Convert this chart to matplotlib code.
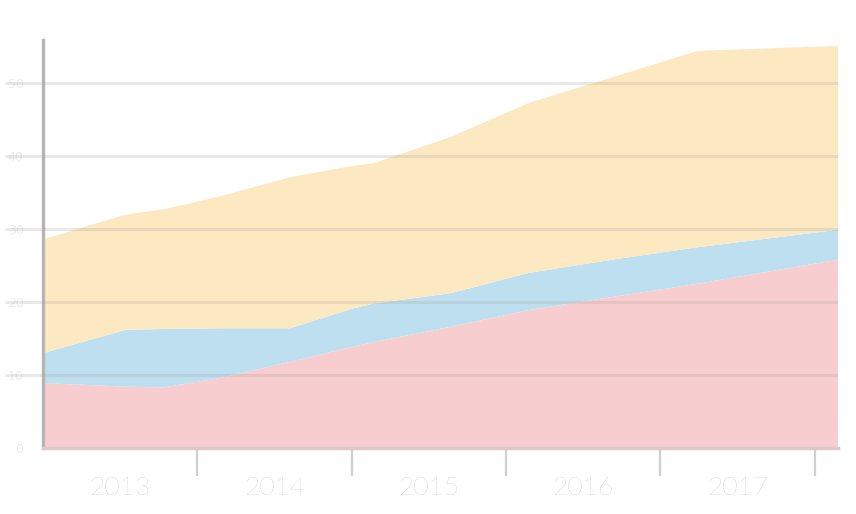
import numpy as np
import matplotlib.pyplot as plt

# x positions in years since start of 2013 (tick at each year boundary)
x = [0, 0.54, 0.78, 1.15, 1.6, 1.99, 2.14, 2.64, 3.15, 3.69, 4.24, 5.15]

# stacked layers
pink   = [8.9, 8.4, 8.3, 9.6, 11.8, 13.8, 14.5, 16.6, 18.9, 20.7, 22.5, 25.8]
blue   = [4.1, 7.8, 8.0, 6.8, 4.6, 5.2, 5.3, 4.6, 5.1, 5.1, 5.0, 4.1]
yellow = [15.6, 15.8, 16.4, 18.1, 20.7, 19.6, 19.2, 21.4, 23.3, 25.0, 26.9, 25.2]

years = ['2013', '2014', '2015', '2016', '2017']
yticks = [0, 10, 20, 30, 40, 50]

fig = plt.figure(figsize=(8.56, 5.14), dpi=100)
ax = fig.add_axes([0.0502, 0.1284, 0.9287, 0.7938])

ax.stackplot(x, pink, blue, yellow,
             colors=['#f8cdd0', '#bedff0', '#fce9c2'], linewidth=0)

ax.set_xlim(0, 5.15)
ax.set_ylim(0, 55.9)

# grid lines run a bit past the left axis
ax.hlines(yticks[1:], -0.245, 5.15, colors='#b0a8a0', alpha=0.25,
          linewidth=2.2, clip_on=False, zorder=3)

for s in ['top', 'right']:
    ax.spines[s].set_visible(False)
ax.spines['left'].set_color('#b5b5b5')
ax.spines['left'].set_linewidth(2.4)
ax.spines['bottom'].set_color('#dccaca')
ax.spines['bottom'].set_linewidth(2.5)

# year separators as ticks, labels centred in between
ax.set_xticks(range(1, 6))
ax.set_xticklabels([])
ax.tick_params(axis='x', length=20, width=1.6, color='#cfcfcf', direction='out')
ax.set_xticks(np.arange(0.5, 5, 1), minor=True)
ax.set_xticklabels(years, minor=True, fontsize=19, color='#b8b8b8',
                   family='Lato', fontweight='light')
ax.tick_params(axis='x', which='minor', length=0, pad=20)

ax.set_yticks(yticks)
ax.set_yticklabels(yticks, fontsize=9, color='#ececec')
ax.tick_params(axis='y', length=0, pad=14)

fig.savefig('out.png', dpi=100, facecolor='white')
